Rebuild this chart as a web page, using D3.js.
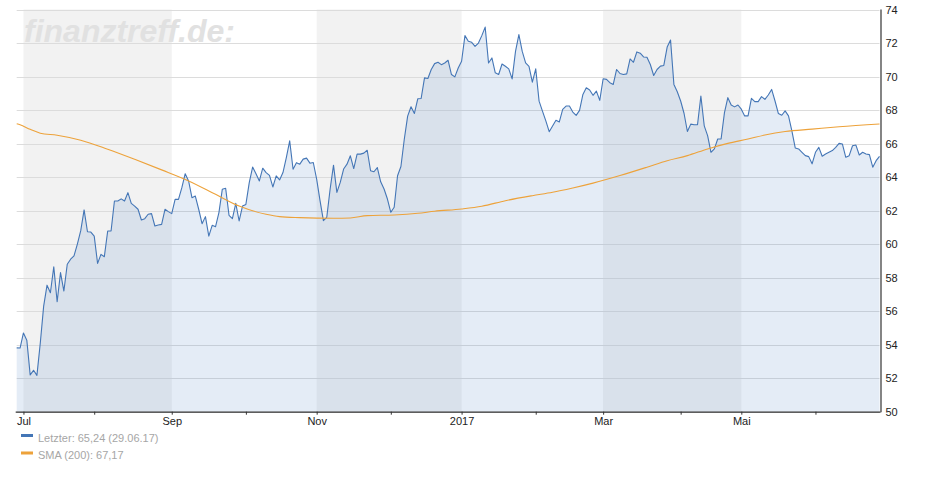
<!DOCTYPE html>
<html>
<head>
<meta charset="utf-8">
<script src="https://cdn.jsdelivr.net/npm/d3@7"></script>
<style>
  html, body { margin: 0; padding: 0; background: #ffffff; }
  svg { display: block; font-family: "Liberation Sans", Arial, sans-serif; }
</style>
</head>
<body>
<svg id="chart" width="940" height="500"></svg>
<script>
// Closing prices, one per trading day (29.06.16 – 29.06.17)
const prices = [
  53.81, 53.8, 54.7, 54.27, 52.2, 52.47, 52.17, 54.1, 56.3, 57.55,
  57.1, 58.65, 56.56, 58.3, 57.2, 58.8, 59.1, 59.3, 60.0, 60.8,
  62.04, 60.74, 60.72, 60.48, 58.85, 59.39, 59.25, 60.78, 60.78, 62.57,
  62.57, 62.7, 62.57, 63.07, 62.43, 62.27, 62.08, 61.44, 61.52, 61.78,
  61.82, 61.08, 61.14, 61.18, 62.08, 61.94, 61.82, 62.67, 62.67, 63.37,
  64.2, 63.77, 62.77, 62.87, 62.08, 61.22, 61.64, 60.48, 61.12, 61.04,
  61.88, 63.27, 63.33, 61.72, 61.52, 62.43, 61.38, 62.27, 62.37, 63.67,
  64.6, 64.2, 63.77, 64.53, 64.27, 64.1, 63.41, 64.07, 63.83, 64.27,
  65.16, 66.16, 64.47, 64.86, 64.77, 65.07, 65.13, 64.83, 64.87, 63.88,
  62.6, 61.4, 61.6, 63.29, 64.71, 63.09, 63.68, 64.48, 64.77, 65.27,
  64.51, 65.37, 65.37, 65.43, 65.6, 64.38, 64.32, 64.57, 63.72, 63.29,
  62.69, 61.9, 62.2, 64.08, 64.63, 66.26, 67.64, 68.2, 67.8, 68.67,
  68.69, 69.92, 69.88, 70.42, 70.77, 70.85, 70.71, 70.81, 70.97, 70.12,
  69.98, 70.51, 70.91, 72.44, 72.1, 72.04, 71.8, 72.0, 72.44, 72.95,
  70.81, 71.11, 70.22, 70.12, 70.75, 70.61, 70.46, 69.86, 71.5, 72.5,
  71.5, 70.81, 70.61, 69.66, 70.46, 68.53, 67.94, 67.35, 66.71, 67.05,
  67.39, 67.29, 68.04, 68.24, 68.24, 67.88, 67.68, 67.98, 68.93, 69.33,
  69.2, 68.88, 69.13, 68.58, 69.87, 69.83, 69.63, 69.53, 70.42, 70.18,
  70.12, 70.16, 71.05, 70.85, 71.47, 71.39, 71.17, 71.15, 70.72, 70.06,
  70.42, 70.62, 70.66, 71.76, 72.18, 69.53, 69.09, 68.54, 67.81, 66.72,
  67.16, 67.12, 67.12, 68.84, 67.06, 66.47, 65.48, 65.68, 66.27, 66.27,
  67.85, 68.74, 68.3, 68.19, 68.3, 68.05, 67.65, 67.65, 68.7, 68.5,
  68.5, 68.8, 68.64, 68.9, 69.23, 68.54, 67.79, 67.69, 67.95, 67.65,
  66.76, 65.74, 65.68, 65.48, 65.28, 65.22, 64.79, 65.48, 65.77, 65.24,
  65.38, 65.48, 65.58, 65.77, 66.01, 65.97, 65.18, 65.28, 65.87, 65.91,
  65.32, 65.48, 65.38, 65.34, 64.59, 64.98, 65.24
];

// SMA(200) read at selected trading-day indices
const smaIndex = [0, 1, 4, 7, 12, 19, 27, 35, 43, 51, 59, 66, 74, 78, 84, 94, 99, 104, 112, 119,
                  124, 132, 138, 145, 153, 159, 165, 171, 179, 187, 193, 199, 205, 211, 217, 222, 228, 236, 244, 256];
const smaValues = [67.18, 67.12, 66.85, 66.62, 66.5, 66.2, 65.66, 65.06, 64.43, 63.77, 62.97, 62.27, 61.78, 61.64, 61.58, 61.54, 61.56, 61.7, 61.74, 61.84,
                   61.96, 62.1, 62.26, 62.59, 62.89, 63.09, 63.35, 63.64, 64.09, 64.59, 64.98, 65.28, 65.68, 66.01, 66.27, 66.51, 66.72, 66.86, 67.0, 67.17];

// x-axis month ticks (trading-day index of first trading day of month)
const majorTickIndex = [2, 46, 89, 132, 174, 215];
const majorTickLabels = ["Jul", "Sep", "Nov", "2017", "Mar", "Mai"];
const minorTickIndex = [23, 68, 111, 154, 197, 237];

// shaded bands (from index to index)
const bandStart = [2, 89, 174];
const bandEnd = [46, 132, 215];

const yTicks = [50, 52, 54, 56, 58, 60, 62, 64, 66, 68, 70, 72, 74];

const legendLabels = ["Letzter: 65,24 (29.06.17)", "SMA (200): 67,17"];
const seriesColors = ["#4476b6", "#eda23a"];

// ---------------------------------------------------------------
const svg = d3.select("#chart");
const pLeft = 16.7, pRight = 879.5, pTop = 9.5, pBottom = 411.7;

const x = d3.scaleLinear().domain([0, prices.length - 1]).range([pLeft, pRight]);
const y = d3.scaleLinear().domain([50, 74]).range([pBottom, pTop]);

// plot background
svg.append("rect").attr("x", pLeft).attr("y", pTop).attr("width", pRight - pLeft).attr("height", pBottom - pTop).attr("fill", "#ffffff");

// bands
svg.append("g").selectAll("rect").data(bandStart).join("rect")
  .attr("x", (d) => x(d))
  .attr("y", pTop)
  .attr("width", (d, i) => x(bandEnd[i]) - x(d))
  .attr("height", pBottom - pTop)
  .attr("fill", "#f2f2f2");

// watermark
svg.append("text")
  .attr("x", 24).attr("y", 42)
  .attr("font-size", 32).attr("font-weight", "bold").attr("font-style", "italic")
  .attr("fill", "#e1e1e1")
  .text("finanztreff.de:");

// gridlines
svg.append("g").selectAll("line").data(yTicks).join("line")
  .attr("x1", pLeft).attr("x2", pRight)
  .attr("y1", (d) => Math.round(y(d)) + 0.5).attr("y2", (d) => Math.round(y(d)) + 0.5)
  .attr("stroke", "#dcdcdc").attr("stroke-width", 1);

// area
const area = d3.area().x((d, i) => x(i)).y0(pBottom).y1((d) => y(d));
svg.append("path").datum(prices).attr("d", area).attr("fill", "#4a80c0").attr("fill-opacity", 0.15);

// price line
const line = d3.line().x((d, i) => x(i)).y((d) => y(d));
svg.append("path").datum(prices).attr("d", line)
  .attr("fill", "none").attr("stroke", seriesColors[0]).attr("stroke-width", 1.1)
  .attr("stroke-linejoin", "round");

// SMA line
const smaLine = d3.line().x((d, i) => x(smaIndex[i])).y((d) => y(d)).curve(d3.curveMonotoneX);
svg.append("path").datum(smaValues).attr("d", smaLine)
  .attr("fill", "none").attr("stroke", seriesColors[1]).attr("stroke-width", 1.1);

// x axis
const xAxis = d3.axisBottom(x).tickValues(majorTickIndex)
  .tickFormat((d, i) => majorTickLabels[i]).tickSize(3).tickPadding(3);
const gx = svg.append("g").attr("transform", `translate(0,${pBottom})`).call(xAxis);
gx.select(".domain").attr("d", `M${pLeft - 1},0.5H${pRight + 1}`).attr("stroke", "#333").attr("stroke-width", 1.2);
gx.selectAll(".tick line").attr("stroke", "#333");
gx.selectAll(".tick text").attr("font-size", 11).attr("fill", "#222").attr("font-family", "'Liberation Sans', Arial, sans-serif");

const xMinor = d3.axisBottom(x).tickValues(minorTickIndex).tickFormat("").tickSize(3);
const gxm = svg.append("g").attr("transform", `translate(0,${pBottom})`).call(xMinor);
gxm.select(".domain").remove();
gxm.selectAll(".tick line").attr("stroke", "#333");

// y axis (right)
const yAxis = d3.axisRight(y).tickValues(yTicks).tickSize(0).tickPadding(5);
const gy = svg.append("g").attr("transform", `translate(${pRight + 1},0)`).call(yAxis);
gy.select(".domain").attr("d", `M0.5,${pTop}V${pBottom + 0.5}`).attr("stroke", "#333").attr("stroke-width", 1.2);
gy.selectAll(".tick text").attr("font-size", 11).attr("fill", "#222").attr("font-family", "'Liberation Sans', Arial, sans-serif");

// legend
const legend = svg.append("g");
legendLabels.forEach((lab, i) => {
  const ly = 441.5 + i * 17.5;
  legend.append("rect").attr("x", 21).attr("y", ly - 7.5).attr("width", 12).attr("height", 3)
    .attr("fill", seriesColors[i]);
  legend.append("text").attr("x", 38).attr("y", ly)
    .attr("font-size", 11).attr("fill", "#a6a6a6").text(lab);
});
</script>
</body>
</html>
